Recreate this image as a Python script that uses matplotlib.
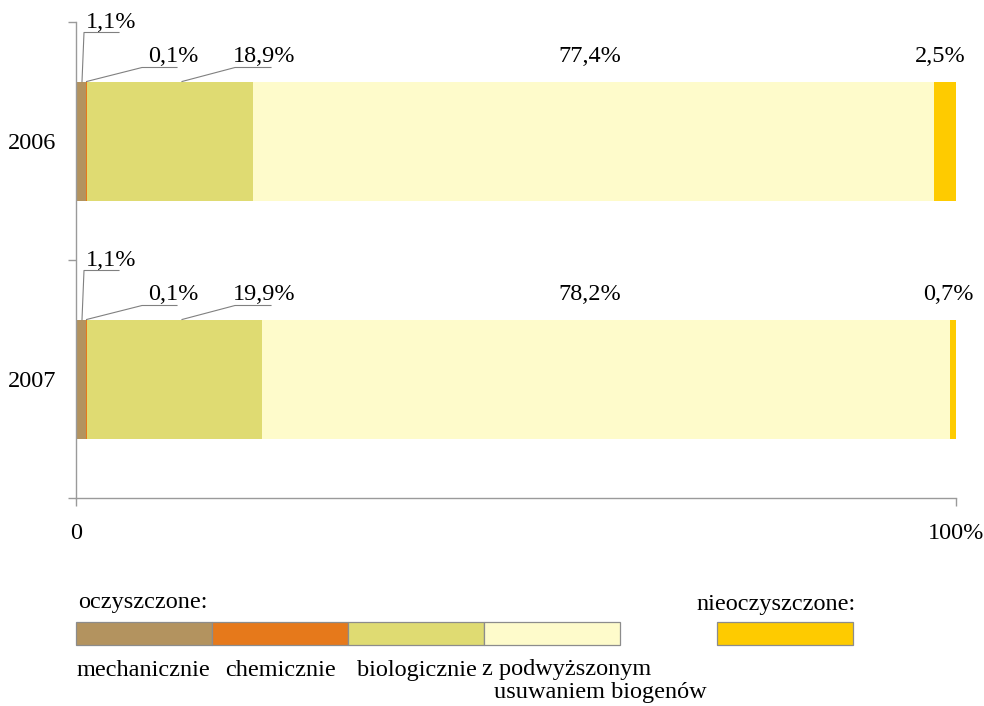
import matplotlib
matplotlib.use("Agg")
import matplotlib.pyplot as plt
from matplotlib.patches import Rectangle
import numpy as np

plt.rcParams['font.family'] = ['Liberation Serif', 'DejaVu Serif']

years = ['2006', '2007']
categories = ['mechanicznie', 'chemicznie', 'biologicznie',
              'z podwyższonym\nusuwaniem biogenów', 'nieoczyszczone']
mech = [1.1, 1.1]
chem = [0.1, 0.1]
bio = [18.9, 19.9]
podw = [77.4, 78.2]
nieocz = [2.5, 0.7]
series = [mech, chem, bio, podw, nieocz]
labels = [['1,1%', '0,1%', '18,9%', '77,4%', '2,5%'],
          ['1,1%', '0,1%', '19,9%', '78,2%', '0,7%']]
colors = ['#b3935f', '#e6791b', '#dfdb72', '#fefbcb', '#fecb00']

W, H = 984, 706
fig = plt.figure(figsize=(W / 100, H / 100), dpi=100)

L, R, T, B = 76, 956, 22, 498
ax = fig.add_axes([L / W, 1 - B / H, (R - L) / W, (B - T) / H])
ax.set_xlim(0, 100)
ax.set_ylim(2, 0)

FS = 17.5
grey = '#9a9a9a'
lead = '#808080'
bh = 0.5

ypos = np.arange(len(years)) + 0.5
left = np.zeros(len(years))
for vals, col in zip(series, colors):
    ax.barh(ypos, vals, left=left, height=bh, color=col, edgecolor='none')
    left = left + np.array(vals)

# px -> data helpers
def dx(px):
    return (px - L) / ((R - L) / 100)

def dy(pxoff):
    return pxoff / ((B - T) / 2)

for i, y in enumerate(ypos):
    top = y - bh / 2
    cum = np.cumsum([s[i] for s in series])
    starts = cum - np.array([s[i] for s in series])
    # mechanicznie
    ax.text(dx(86), top - dy(53), labels[i][0], fontsize=FS, ha='left', va='baseline')
    ax.plot([dx(82), dx(84), dx(119)], [top, top - dy(49), top - dy(49)],
            color=lead, lw=0.8, clip_on=False)
    # chemicznie
    ax.text(dx(148), top - dy(20), labels[i][1], fontsize=FS, ha='left', va='baseline')
    ax.plot([cum[1], dx(142), dx(177)], [top, top - dy(14), top - dy(14)],
            color=lead, lw=0.8, clip_on=False)
    # biologicznie
    ax.text(dx(233), top - dy(20), labels[i][2], fontsize=FS, ha='left', va='baseline')
    ax.plot([dx(182), dx(235), dx(271)], [top, top - dy(14), top - dy(14)],
            color=lead, lw=0.8, clip_on=False)
    # podwyzszone
    ax.text(dx(589.5), top - dy(20), labels[i][3], fontsize=FS,
            ha='center', va='baseline')
    # nieoczyszczone
    ax.text(starts[4] + series[4][i] / 2 - 0.55, top - dy(20), labels[i][4], fontsize=FS,
            ha='center', va='baseline')

for s in ['top', 'right']:
    ax.spines[s].set_visible(False)
for s in ['left', 'bottom']:
    ax.spines[s].set_color(grey)
    ax.spines[s].set_linewidth(1.0)

ax.set_yticks([0, 1, 2])
ax.set_yticklabels([])
ax.set_yticks(ypos, minor=True)
ax.set_yticklabels(years, minor=True, fontsize=FS)
ax.tick_params(axis='y', which='major', direction='out', length=6, width=1.0, color=grey)
ax.tick_params(axis='y', which='minor', length=0, pad=14)
ax.set_xticks([0, 100])
ax.set_xticklabels(['0', '100%'], fontsize=FS)
ax.tick_params(axis='x', direction='out', length=6, width=1.0, color=grey, pad=12)

# legend overlay in pixel coordinates
lg = fig.add_axes([0, 0, 1, 1])
lg.set_xlim(0, W)
lg.set_ylim(H, 0)
lg.axis('off')
lg.patch.set_alpha(0)

lg.text(78, 608, 'oczyszczone:', fontsize=FS, ha='left', va='baseline')
lg.text(696, 610, 'nieoczyszczone:', fontsize=FS, ha='left', va='baseline')
box_x = [76, 212, 348, 484, 717]
for bx, col in zip(box_x, colors):
    lg.add_patch(Rectangle((bx, 622), 136, 23, facecolor=col, edgecolor='#8c8c8c', lw=0.9))
lg.text(77, 676, categories[0], fontsize=FS, ha='left', va='baseline')
lg.text(225, 676, categories[1], fontsize=FS, ha='left', va='baseline')
lg.text(357, 676, categories[2], fontsize=FS, ha='left', va='baseline')
c3 = categories[3].split('\n')
lg.text(482, 675, c3[0], fontsize=FS, ha='left', va='baseline')
lg.text(494, 698, c3[1], fontsize=FS, ha='left', va='baseline')

fig.savefig('out.png', dpi=100)
